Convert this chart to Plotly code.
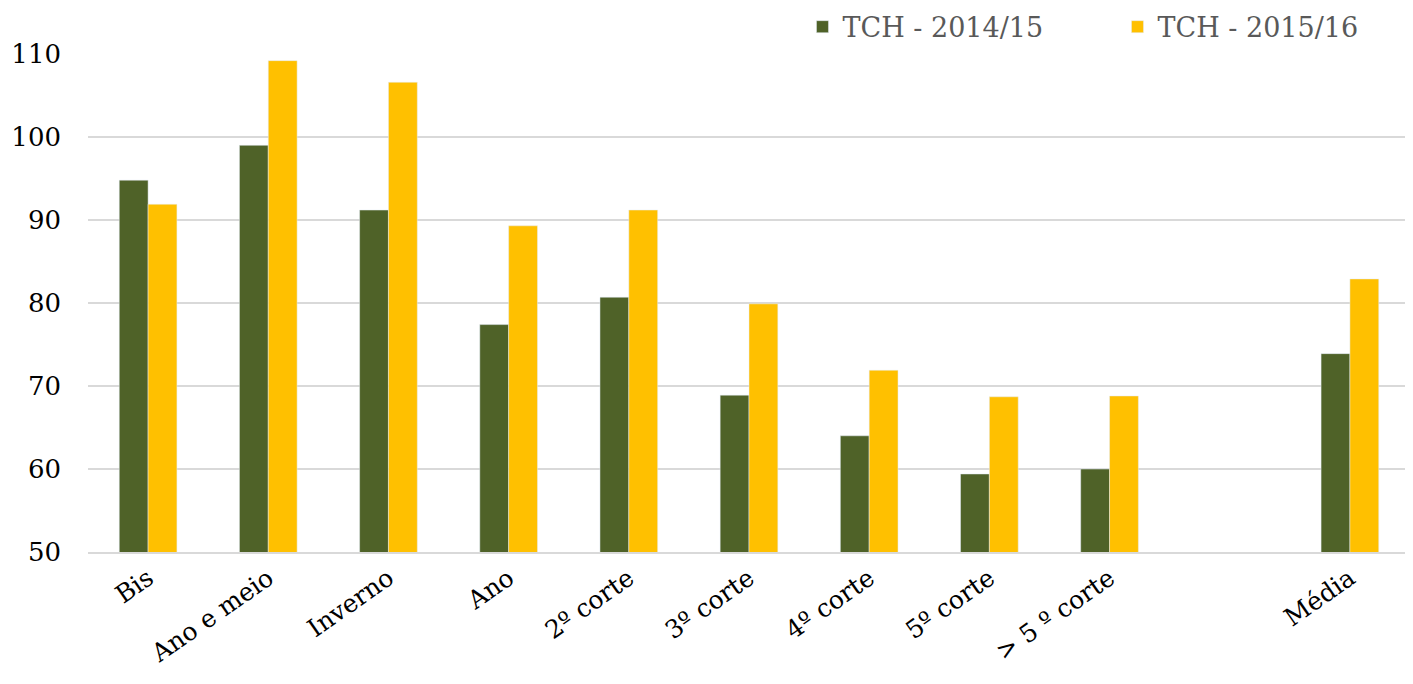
import plotly.graph_objects as go

categories = ["Bis", "Ano e meio", "Inverno", "Ano", "2º corte", "3º corte",
              "4º corte", "5º corte", "> 5 º corte", " ", "Média"]
tch_2014_15 = [94.8, 99.0, 91.2, 77.4, 80.7, 68.9, 64.0, 59.4, 60.0, None, 73.9]
tch_2015_16 = [91.9, 109.2, 106.6, 89.3, 91.2, 79.9, 71.9, 68.7, 68.8, None, 82.9]
y_ticks = [50, 60, 70, 80, 90, 100, 110]

FONT = "DejaVu Serif"

fig = go.Figure()
fig.add_trace(go.Bar(x=categories, y=tch_2014_15, name="TCH - 2014/15",
                     marker_color="#4F6228"))
fig.add_trace(go.Bar(x=categories, y=tch_2015_16, name="TCH - 2015/16",
                     marker_color="#FFC000"))

fig.update_layout(
    width=1413, height=684,
    paper_bgcolor="white", plot_bgcolor="white",
    margin=dict(l=80, r=11, t=46, b=140, autoexpand=False),
    barmode="group", bargap=0.52, bargroupgap=0,
    font=dict(family=FONT, color="black", size=25),
    legend=dict(orientation="h", x=1.017, xanchor="right", y=1.054, yanchor="middle",
                font=dict(family=FONT, size=27, color="#595959"),
                traceorder="normal", itemwidth=30, entrywidth=270),
    showlegend=True,
)
fig.update_xaxes(type="category", categoryorder="array", categoryarray=categories,
                 tickangle=-35, tickfont=dict(family=FONT, size=25, color="black"),
                 showline=True, linecolor="#D9D9D9", linewidth=2,
                 showgrid=False, ticks="")
fig.update_yaxes(range=[50, 110], tickvals=y_ticks, showgrid=True,
                 gridcolor="#D9D9D9", gridwidth=2, zeroline=False,
                 tickfont=dict(family=FONT, size=26, color="black"),
                 ticks="", ticklabelstandoff=26)

fig.write_html("out.html")
